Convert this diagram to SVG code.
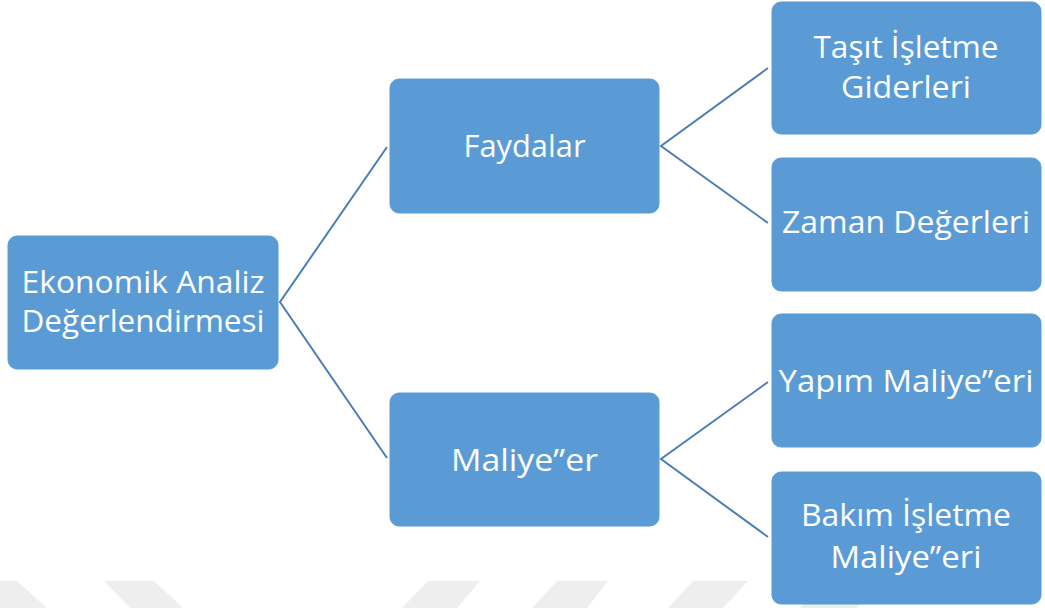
<svg xmlns="http://www.w3.org/2000/svg" width="1045" height="608" viewBox="0 0 1045 608">
<style>
.wm{fill:#eeeeee}
.box{fill:#5b9bd5;stroke:#5b9bd5;stroke-width:1}
.lbl{fill:#ffffff;font-family:"Open Sans","Noto Sans","Liberation Sans",sans-serif;font-size:31px;text-anchor:middle}
.con{stroke:#4a7eb5;stroke-width:2;fill:none}
</style>
<rect width="1045" height="608" fill="#ffffff"/>
<g id="watermark">
<polygon class="wm" points="-10,581 17,581 47,608 -10,608"/>
<polygon class="wm" points="104,581 154,581 183,608 130,608"/>
<polygon class="wm" points="428,581 480,581 457,608 402,608"/>
<polygon class="wm" points="557,581 608,581 587,608 532,608"/>
<polygon class="wm" points="693,581 748,581 723,608 668,608"/>
<polygon class="wm" points="825,581 880,581 857,608 800,608"/>
</g>
<g id="connectors">
<polyline class="con" points="387,147 280,302 387,458"/>
<polyline class="con" points="768,68 661,146 768,223"/>
<polyline class="con" points="768,382 661,459 768,537"/>
</g>
<g id="root">
<rect class="box" x="8" y="236" width="270" height="133" rx="9"/>
<text class="lbl" x="143" y="293" textLength="243" lengthAdjust="spacingAndGlyphs">Ekonomik Analiz</text>
<text class="lbl" x="143" y="332" textLength="243" lengthAdjust="spacingAndGlyphs">Değerlendirmesi</text>
</g>
<g id="faydalar">
<rect class="box" x="390" y="79" width="269" height="134" rx="9"/>
<text class="lbl" x="524.5" y="157" textLength="122" lengthAdjust="spacingAndGlyphs">Faydalar</text>
</g>
<g id="maliyeler">
<rect class="box" x="390" y="393" width="269" height="133" rx="9"/>
<text class="lbl" x="524.5" y="471" textLength="147" lengthAdjust="spacingAndGlyphs">Maliye”er</text>
</g>
<g id="tasit">
<rect class="box" x="772" y="2" width="269" height="132" rx="9"/>
<text class="lbl" x="906" y="58" textLength="185" lengthAdjust="spacingAndGlyphs">Taşıt İşletme</text>
<text class="lbl" x="906" y="98" textLength="130" lengthAdjust="spacingAndGlyphs">Giderleri</text>
</g>
<g id="zaman">
<rect class="box" x="772" y="158" width="269" height="133" rx="9"/>
<text class="lbl" x="906" y="233" textLength="248" lengthAdjust="spacingAndGlyphs">Zaman Değerleri</text>
</g>
<g id="yapim">
<rect class="box" x="772" y="314" width="269" height="133" rx="9"/>
<text class="lbl" x="906" y="392" textLength="255" lengthAdjust="spacingAndGlyphs">Yapım Maliye”eri</text>
</g>
<g id="bakim">
<rect class="box" x="772" y="472" width="269" height="132" rx="9"/>
<text class="lbl" x="906" y="526" textLength="210" lengthAdjust="spacingAndGlyphs">Bakım İşletme</text>
<text class="lbl" x="906" y="568" textLength="151" lengthAdjust="spacingAndGlyphs">Maliye”eri</text>
</g>
</svg>
